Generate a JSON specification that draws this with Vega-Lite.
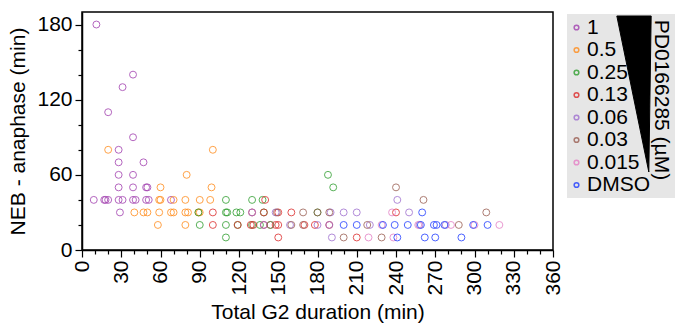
{
  "$schema": "https://vega.github.io/schema/vega-lite/v6.json",
  "width": 471,
  "height": 238,
  "autosize": {"type": "none"},
  "padding": {"left": 82, "top": 12, "right": 123, "bottom": 76},
  "background": "white",
  "config": {
    "view": {"stroke": "black", "strokeWidth": 1.5},
    "font": "Liberation Sans",
    "axis": {"domainColor": "black", "tickColor": "black", "labelColor": "black", "titleColor": "black", "labelFont": "Liberation Sans", "titleFont": "Liberation Sans", "grid": false, "titleFontWeight": "normal", "domainWidth": 1.5, "tickWidth": 1.2}
  },
  "data": {"values": [
    {"x":11,"y":180,"c":"1"},{"x":39,"y":140,"c":"1"},{"x":31,"y":130,"c":"1"},{"x":20,"y":110,"c":"1"},{"x":39,"y":90,"c":"1"},{"x":28,"y":80,"c":"1"},{"x":28,"y":70,"c":"1"},{"x":47,"y":70,"c":"1"},{"x":28,"y":60,"c":"1"},{"x":39,"y":60,"c":"1"},{"x":28,"y":50,"c":"1"},{"x":39,"y":50,"c":"1"},{"x":49,"y":50,"c":"1"},{"x":50,"y":50,"c":"1"},{"x":9,"y":40,"c":"1"},{"x":17,"y":40,"c":"1"},{"x":18,"y":40,"c":"1"},{"x":20,"y":40,"c":"1"},{"x":28,"y":40,"c":"1"},{"x":31,"y":40,"c":"1"},{"x":39,"y":40,"c":"1"},{"x":41,"y":40,"c":"1"},{"x":49,"y":40,"c":"1"},{"x":51,"y":40,"c":"1"},{"x":68,"y":40,"c":"1"},{"x":29,"y":30,"c":"1"},
    {"x":20,"y":80,"c":"0.5"},{"x":100,"y":80,"c":"0.5"},{"x":80,"y":60,"c":"0.5"},{"x":60,"y":50,"c":"0.5"},{"x":99,"y":50,"c":"0.5"},{"x":59,"y":40,"c":"0.5"},{"x":60,"y":40,"c":"0.5"},{"x":70,"y":40,"c":"0.5"},{"x":79,"y":40,"c":"0.5"},{"x":90,"y":40,"c":"0.5"},{"x":98,"y":40,"c":"0.5"},{"x":40,"y":30,"c":"0.5"},{"x":47,"y":30,"c":"0.5"},{"x":50,"y":30,"c":"0.5"},{"x":59,"y":30,"c":"0.5"},{"x":68,"y":30,"c":"0.5"},{"x":70,"y":30,"c":"0.5"},{"x":79,"y":30,"c":"0.5"},{"x":81,"y":30,"c":"0.5"},{"x":89,"y":30,"c":"0.5"},{"x":90,"y":30,"c":"0.5"},{"x":58,"y":20,"c":"0.5"},{"x":79,"y":20,"c":"0.5"},
    {"x":188,"y":60,"c":"0.25"},{"x":192,"y":50,"c":"0.25"},{"x":110,"y":40,"c":"0.25"},{"x":130,"y":40,"c":"0.25"},{"x":138,"y":40,"c":"0.25"},{"x":89,"y":30,"c":"0.25"},{"x":110,"y":30,"c":"0.25"},{"x":111,"y":30,"c":"0.25"},{"x":118,"y":30,"c":"0.25"},{"x":121,"y":30,"c":"0.25"},{"x":139,"y":30,"c":"0.25"},{"x":180,"y":30,"c":"0.25"},{"x":90,"y":20,"c":"0.25"},{"x":110,"y":20,"c":"0.25"},{"x":119,"y":20,"c":"0.25"},{"x":130,"y":20,"c":"0.25"},{"x":136,"y":20,"c":"0.25"},{"x":144,"y":20,"c":"0.25"},{"x":110,"y":10,"c":"0.25"},
    {"x":140,"y":40,"c":"0.13"},{"x":100,"y":30,"c":"0.13"},{"x":130,"y":30,"c":"0.13"},{"x":139,"y":30,"c":"0.13"},{"x":150,"y":30,"c":"0.13"},{"x":160,"y":30,"c":"0.13"},{"x":240,"y":30,"c":"0.13"},{"x":100,"y":20,"c":"0.13"},{"x":119,"y":20,"c":"0.13"},{"x":129,"y":20,"c":"0.13"},{"x":131,"y":20,"c":"0.13"},{"x":139,"y":20,"c":"0.13"},{"x":148,"y":20,"c":"0.13"},{"x":150,"y":20,"c":"0.13"},{"x":170,"y":20,"c":"0.13"},{"x":178,"y":20,"c":"0.13"},{"x":189,"y":20,"c":"0.13"},{"x":150,"y":10,"c":"0.13"},{"x":210,"y":10,"c":"0.13"},
    {"x":241,"y":40,"c":"0.06"},{"x":130,"y":30,"c":"0.06"},{"x":148,"y":30,"c":"0.06"},{"x":190,"y":30,"c":"0.06"},{"x":200,"y":30,"c":"0.06"},{"x":210,"y":30,"c":"0.06"},{"x":250,"y":30,"c":"0.06"},{"x":139,"y":20,"c":"0.06"},{"x":159,"y":20,"c":"0.06"},{"x":180,"y":20,"c":"0.06"},{"x":189,"y":20,"c":"0.06"},{"x":220,"y":20,"c":"0.06"},{"x":258,"y":20,"c":"0.06"},{"x":278,"y":20,"c":"0.06"},{"x":191,"y":10,"c":"0.06"},
    {"x":240,"y":50,"c":"0.03"},{"x":261,"y":40,"c":"0.03"},{"x":309,"y":30,"c":"0.03"},{"x":149,"y":30,"c":"0.03"},{"x":169,"y":30,"c":"0.03"},{"x":180,"y":30,"c":"0.03"},{"x":189,"y":30,"c":"0.03"},{"x":144,"y":20,"c":"0.03"},{"x":160,"y":20,"c":"0.03"},{"x":169,"y":20,"c":"0.03"},{"x":218,"y":20,"c":"0.03"},{"x":288,"y":20,"c":"0.03"},{"x":200,"y":10,"c":"0.03"},{"x":229,"y":10,"c":"0.03"},
    {"x":237,"y":30,"c":"0.015"},{"x":229,"y":20,"c":"0.015"},{"x":257,"y":20,"c":"0.015"},{"x":282,"y":20,"c":"0.015"},{"x":300,"y":20,"c":"0.015"},{"x":319,"y":20,"c":"0.015"},{"x":219,"y":10,"c":"0.015"},{"x":238,"y":10,"c":"0.015"},
    {"x":260,"y":30,"c":"DMSO"},{"x":200,"y":20,"c":"DMSO"},{"x":210,"y":20,"c":"DMSO"},{"x":230,"y":20,"c":"DMSO"},{"x":239,"y":20,"c":"DMSO"},{"x":249,"y":20,"c":"DMSO"},{"x":259,"y":20,"c":"DMSO"},{"x":269,"y":20,"c":"DMSO"},{"x":271,"y":20,"c":"DMSO"},{"x":277,"y":20,"c":"DMSO"},{"x":299,"y":20,"c":"DMSO"},{"x":310,"y":20,"c":"DMSO"},{"x":241,"y":10,"c":"DMSO"},{"x":262,"y":10,"c":"DMSO"},{"x":270,"y":10,"c":"DMSO"},{"x":290,"y":10,"c":"DMSO"}
  ]},
  "mark": {"type": "point", "shape": "circle", "filled": false, "size": 48, "opacity": 0.8},
  "encoding": {
    "x": {"field": "x", "type": "quantitative", "scale": {"domain": [0, 360], "nice": false},
      "axis": {"title": "Total G2 duration (min)", "titleFontSize": 21, "labelFontSize": 21, "labelAngle": -90,
        "values": [0,10,20,30,40,50,60,70,80,90,100,110,120,130,140,150,160,170,180,190,200,210,220,230,240,250,260,270,280,290,300,310,320,330,340,350,360],
        "labelExpr": "datum.value % 30 === 0 ? datum.label : ''",
        "tickSize": {"condition": {"test": "datum.value % 30 === 0", "value": 7}, "value": 4},
        "labelPadding": 3, "titlePadding": 6}},
    "y": {"field": "y", "type": "quantitative", "scale": {"domain": [0, 190], "nice": false},
      "axis": {"title": "NEB - anaphase (min)", "titleFontSize": 21, "labelFontSize": 21,
        "values": [0,20,40,60,80,100,120,140,160,180],
        "labelExpr": "datum.value % 60 === 0 ? datum.label : ''",
        "tickSize": {"condition": {"test": "datum.value % 60 === 0", "value": 7}, "value": 4},
        "labelPadding": 3, "titlePadding": 8}},
    "color": {"field": "c", "type": "nominal",
      "scale": {"domain": ["1","0.5","0.25","0.13","0.06","0.03","0.015","DMSO"],
        "range": ["#a23fb0","#ff8c1a","#2e9e2e","#dd2a2a","#9f6fd0","#9a5e52","#e57fc6","#1f3cff"]},
      "legend": {"orient": "none", "legendX": 485, "legendY": 2, "zindex": 0, "title": "PD0166285 (µM)", "titleOrient": "right",
        "fillColor": "#e6e6e6", "padding": 3, "labelFontSize": 21, "titleFontSize": 21, "titleFontWeight": "normal",
        "symbolType": "circle", "symbolSize": 22, "symbolStrokeWidth": 1.5, "symbolFillColor": "transparent", "rowPadding": 0.5, "symbolOffset": -4, "labelOffset": 0, "titlePadding": 11, "labelColor": "black", "titleColor": "black",
        "encoding": {"title": {"angle": {"value": 90}, "align": {"value": "center"}, "dx": {"value": -6}}}}},
    "strokeWidth": {"datum": "wedge", "type": "nominal",
      "scale": {"range": [1.4]},
      "legend": {"orient": "none", "legendX": 552, "legendY": 82, "zindex": 2, "title": null, "padding": 0,
        "symbolType": "M -0.22 -1 L 0.22 -1 L 0.19 1 Z", "symbolSize": 24336, "symbolFillColor": "black", "symbolStrokeColor": "black",
        "labelExpr": "''", "labelFontSize": 1,
        "encoding": {"symbols": {"fill": {"value": "black"}, "stroke": {"value": "black"}, "strokeWidth": {"value": 0}, "opacity": {"value": 1}}}}}
  }
}
